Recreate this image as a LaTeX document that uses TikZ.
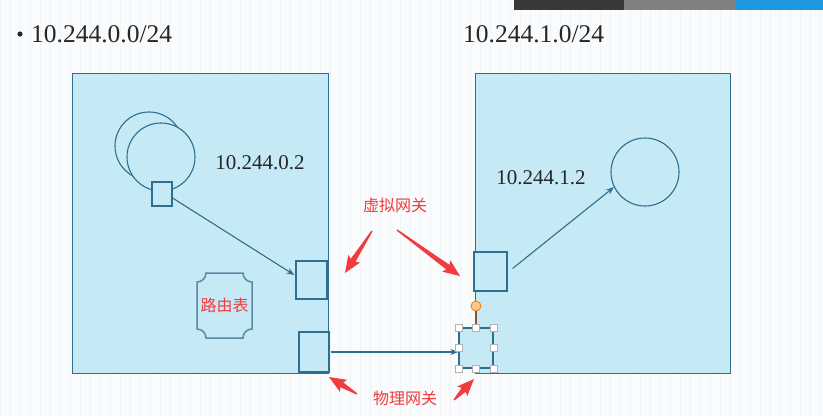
\documentclass[tikz,border=0pt]{standalone}
\usepackage{fontspec}
\setmainfont{Liberation Serif}
\newfontfamily\cjk{Noto Sans CJK SC}
\usetikzlibrary{calc,arrows.meta}
\definecolor{boxfill}{HTML}{C6E9F6}
\definecolor{boxline}{HTML}{2E6E8E}
\definecolor{redc}{HTML}{F03C3C}
\definecolor{bgc}{HTML}{FAFBFC}
\definecolor{gridc}{HTML}{F1F4F6}
\definecolor{barblue}{HTML}{1E9BE0}
\newcommand\redarrow[2]{%
  \coordinate (hbA) at ($(#2)!15pt!(#1)$);
  \coordinate (hbB) at ($(#2)!17pt!(#1)$);
  \fill[redc] ($(#1)!0.7pt!90:(#2)$) -- ($(hbA)!2.8pt!90:(#2)$)
    -- ($(hbB)!7pt!90:(#2)$) -- (#2)
    -- ($(hbB)!7pt!-90:(#2)$)
    -- ($(hbA)!2.8pt!-90:(#2)$) -- ($(#1)!0.7pt!-90:(#2)$) -- cycle;}
\begin{document}
\begin{tikzpicture}[x=1pt,y=-1pt,
  box/.style={draw=boxline,fill=boxfill,line width=1pt,inner sep=0pt},
  port/.style={draw=boxline,fill=boxfill,line width=1.2pt,inner sep=0pt},
  cir/.style={circle,draw=boxline,fill=boxfill,line width=1.1pt,inner sep=0pt,minimum size=68pt},
  link/.style={draw=boxline,line width=1.1pt,-{Stealth[length=8pt,width=6pt]}},
  handle/.style={draw=gray!60,fill=white,line width=0.8pt,inner sep=0pt,minimum size=7pt},
  big/.style={font=\fontsize{25.5}{30}\selectfont,text=black!85,inner sep=0pt},
  ip/.style={font=\fontsize{21}{25}\selectfont,text=black!85,inner sep=0pt},
  red/.style={font=\cjk\fontsize{16}{19}\selectfont,text=redc,inner sep=0pt}]
\useasboundingbox (0,0) rectangle (823,416);
\fill[bgc] (0,0) rectangle (823,416);
\draw[gridc,line width=0.4pt,step=10] (0,0) grid (823,416);
% top bars
\fill[black!78] (514,0) rectangle (624,10);
\fill[black!50] (624,0) rectangle (736,10);
\fill[barblue] (736,0) rectangle (823,10);
% titles
\node[big,anchor=base west] (t1) at (31,42) {10.244.0.0/24};
\fill[black!85] (20,34) circle (2.6);
\node[big,anchor=base west] (t2) at (463,42) {10.244.1.0/24};
% boxes
\node[box,minimum width=256pt,minimum height=300pt] (L) at (200,223) {};
\node[box,minimum width=255pt,minimum height=300pt] (R) at (602.5,223) {};
% left circles
\node[cir] (c1) at (149,146) {};
\node[cir] (c2) at (161,157) {};
\node[port,minimum width=20pt,minimum height=24pt] (s1) at (162,194) {};
\node[ip] (ipL) at (260,163) {10.244.0.2};
% left ports
\node[port,minimum width=31pt,minimum height=38pt] (v1) at (311.5,280) {};
\node[port,minimum width=30pt,minimum height=40pt] (p1) at (314,352) {};
% routing table
\draw[draw=boxline!80,fill=boxfill,line width=1.5pt]
  (206,273) -- (243,273) .. controls (243,278) and (247,282) .. (252,282)
  -- (252,329) .. controls (247,329) and (243,333) .. (243,338)
  -- (206,338) .. controls (206,333) and (202,329) .. (197,329)
  -- (197,282) .. controls (202,282) and (206,278) .. (206,273) -- cycle;
\node[red] (rt) at (224.5,305) {路由表};
% right side
\node[cir] (c3) at (645,172) {};
\node[ip] (ipR) at (541,178) {10.244.1.2};
\node[port,minimum width=33pt,minimum height=39pt] (v2) at (490.5,271.5) {};
\node[port,minimum width=34pt,minimum height=40pt] (p2) at (476,348) {};
% connectors
\coordinate (a1) at ($(s1.east)+(0,4)$);
\draw[link] (a1) -- ($(v1.west)+(-1,-5)$);
\coordinate (a0) at ($(p1.east)+(1,0)$);
\draw[link] (a0) -- (a0 -| p2.west);
\coordinate (a2) at ($(v2.east)+(5,-3)$);
\draw[link] (a2) -- (c3.206);
% selection handles
\node[circle,draw=orange!80!brown,fill=orange!45,line width=0.8pt,minimum size=10pt,inner sep=0pt] (hh) at (476,306) {};
\draw[brown!70!black,line width=1.2pt] (hh) -- (p2.north);
\foreach \a in {north west,north,north east,west,east,south west,south,south east}
  \node[handle] at (p2.\a) {};
% red labels and arrows
\node[red] (vg) at (395,205) {虚拟网关};
\node[red] (pg) at (405,398) {物理网关};
\coordinate (va1) at (372,231); \coordinate (vb1) at (345,273);
\coordinate (va2) at (397,230); \coordinate (vb2) at (460,276);
\coordinate (pa1) at (357,394); \coordinate (pb1) at (329,377);
\coordinate (pa2) at (454,400); \coordinate (pb2) at (474,379);
\redarrow{va1}{vb1}
\redarrow{va2}{vb2}
\redarrow{pa1}{pb1}
\redarrow{pa2}{pb2}
\end{tikzpicture}
\end{document}
